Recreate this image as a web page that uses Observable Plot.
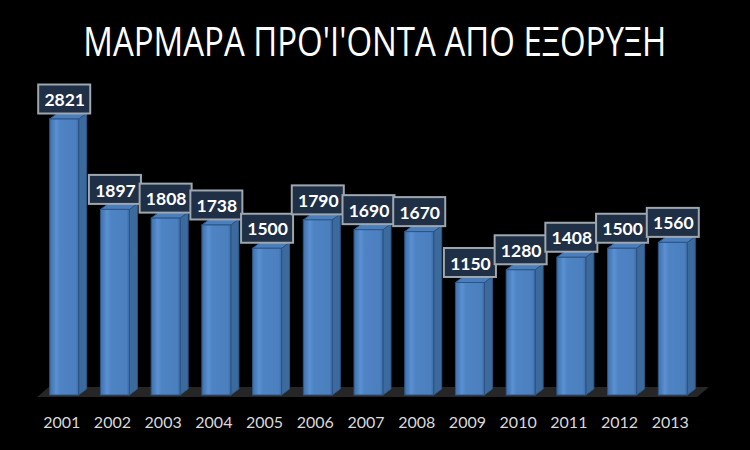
<!DOCTYPE html>
<html><head><meta charset="utf-8">
<script src="https://cdn.jsdelivr.net/npm/d3@7"></script>
<script src="https://cdn.jsdelivr.net/npm/@observablehq/plot@0.6"></script>
<style>
html,body{margin:0;padding:0;background:#000;}
#chart{width:750px;height:450px;overflow:hidden;background:#000;}
#title{height:76px;box-sizing:border-box;padding-top:14px;line-height:54px;text-align:center;color:#fff;font-family:"Open Sans","Noto Sans",sans-serif;font-size:40px;white-space:nowrap;}
#title span{display:inline-block;transform-origin:center;}
#plot svg{display:block;}
</style></head><body>
<div id="chart"><div id="title"><span id="tspan">ΜΑΡΜΑΡΑ ΠΡΟ'Ι'ΟΝΤΑ ΑΠΟ ΕΞΟΡΥΞΗ</span></div><div id="plot"></div></div>
<script>
const years = ["2001","2002","2003","2004","2005","2006","2007","2008","2009","2010","2011","2012","2013"];
const values = [2821,1897,1808,1738,1500,1790,1690,1670,1150,1280,1408,1500,1560];
const data = years.map((year, i) => ({year, value: values[i]}));

// fit title width
const ts = document.getElementById("tspan");
const tw = ts.getBoundingClientRect().width;
ts.style.transform = `scaleX(${583 / tw})`;

const DX = 8, DY = -6;

function defsMark() {
  const svg = d3.create("svg:g");
  const defs = svg.append("defs");
  const g = defs.append("linearGradient").attr("id", "frontGrad").attr("x1", 0).attr("x2", 1).attr("y1", 0).attr("y2", 0);
  [[0, "#3f72ae"], [0.12, "#4c80bf"], [0.22, "#5b91d2"], [0.36, "#4f84c4"], [0.9, "#4b7fbe"], [1, "#3a6ba3"]]
    .forEach(([o, c]) => g.append("stop").attr("offset", o).attr("stop-color", c));
  return svg.node();
}

function floorMark(index, scales) {
  const {x, y} = scales;
  const [r0, r1] = x.range();
  const yb = y(0);
  const g = d3.create("svg:g");
  g.append("path")
    .attr("d", `M${r0 + 9},${yb + 2}L${r1 - 12},${yb + 2}L${r1},${yb - 8}L${r0 + 21},${yb - 8}Z`)
    .attr("fill", "#262626");
  return g.node();
}

function facesMark(index, scales) {
  const {x, y} = scales;
  const bw = x.bandwidth();
  const g = d3.create("svg:g");
  for (const d of data) {
    const x0 = x(d.year), x1 = x0 + bw, yt = y(d.value), yb = y(0);
    g.append("path")
      .attr("d", `M${x1},${yb}L${x1},${yt}L${x1 + DX},${yt + DY}L${x1 + DX},${yb + DY}Z`)
      .attr("fill", "#3d6a9d").attr("stroke", "#2c5585").attr("stroke-width", 1);
    g.append("path")
      .attr("d", `M${x0},${yt}L${x1},${yt}L${x1 + DX},${yt + DY}L${x0 + DX},${yt + DY}Z`)
      .attr("fill", "#4b7ebc").attr("stroke", "#2c5585").attr("stroke-width", 1);
  }
  return g.node();
}

const chart = Plot.plot({
  width: 750,
  height: 374,
  marginLeft: 28,
  marginRight: 41,
  marginTop: 25.5,
  marginBottom: 55,
  style: {background: "#000", color: "#d9d9d9"},
  x: {domain: years, padding: 0.428, round: false, label: null, tickSize: 0, tickPadding: 0},
  y: {domain: [0, 3000], axis: null},
  marks: [
    defsMark,
    floorMark,
    Plot.axisX({tickSize: 0, tickPadding: 0, dy: 21, dx: -3, fontSize: 16, fontFamily: "Lato, 'Open Sans', sans-serif", fill: "#d9d9d9", label: null}),
    facesMark,
    Plot.barY(data, {x: "year", y: "value", fill: "url(#frontGrad)", stroke: "#2c5585", strokeWidth: 1}),
    Plot.barY(data, {x: "year", y1: "value", y2: "value", insetTop: -34.5, insetBottom: 5.5, insetLeft: -11.5, insetRight: -11.5, fill: "#1f3046", stroke: "#9ea6ae", strokeWidth: 2}),
    Plot.text(data, {x: "year", y: "value", text: d => String(d.value), dy: -19, fill: "#fff", fontWeight: "bold", fontSize: 17.5, fontFamily: "Lato, 'Open Sans', sans-serif"})
  ]
});
document.getElementById("plot").appendChild(chart);
</script>
</body></html>
